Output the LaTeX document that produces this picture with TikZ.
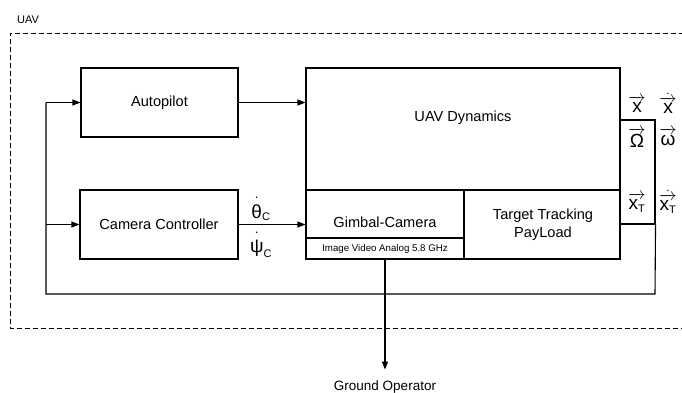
\documentclass[tikz,border=0pt]{standalone}
\usepackage{amsmath}
\usepackage{fontspec}
\setmainfont{Liberation Sans}
\usetikzlibrary{arrows.meta}
\newcommand{\mainsz}{\fontsize{14.6}{16}\selectfont}
\newcommand{\biglab}{\fontsize{19}{20}\selectfont}
\newcommand{\sublab}{\fontsize{11}{11}\selectfont}
\newcommand{\hd}[1]{\overset{\raisebox{3pt}{\text{\fontsize{13}{13}\selectfont .}}}{#1}}
\begin{document}
\begin{tikzpicture}[x=1pt,y=-1pt,
  blk/.style={draw,line width=1.1pt,inner sep=0pt},
  txt/.style={inner sep=0pt,font=\mainsz},
  lab/.style={inner sep=0pt,font=\biglab},
  conn/.style={line width=1.1pt},
  arr/.style={conn,-{Triangle[length=8pt,width=6pt]}}]
\useasboundingbox (0,0) rectangle (682,392);
% dashed UAV frame
\draw[line width=1pt,dash pattern=on 5pt off 3pt] (700,33) -- (10,33) -- (10,328) -- (700,328);
\node[inner sep=0pt,font=\fontsize{11}{12}\selectfont] (uav) at (28,20) {UAV};
% blocks
\node[blk,minimum width=157pt,minimum height=69pt] (auto) at (159.5,102.5) {};
\node[txt] (autot) at (auto.center) {Autopilot};
\node[blk,minimum width=158pt,minimum height=69pt] (cam) at (159,224.5) {};
\node[txt] (camt) at (cam.center) {Camera Controller};
\node[blk,minimum width=314pt,minimum height=191pt] (dyn) at (463,163.5) {};
\node[txt] (dynt) at (463,118) {UAV Dynamics};
\node[blk,minimum width=158pt,minimum height=69pt] (gim) at (385,224.5) {};
\node[txt] (gimt) at (385,222) {Gimbal-Camera};
\draw[conn] (306,238) -- (464,238);
\node[inner sep=0pt,font=\fontsize{9.7}{10}\selectfont] (img) at (385,248.5) {Image Video Analog 5.8 GHz};
\node[blk,minimum width=156pt,minimum height=69pt] (tgt) at (542,224.5) {};
\node[txt,align=center] (tgtt) at (543,224.5) {Target Tracking\\[1.5pt]PayLoad};
\node[blk,minimum width=35pt,minimum height=104pt] (out) at (637.5,172) {};
% output labels
\node[lab] (lx) at (637,104) {$\overrightarrow{\text{x}}$};
\node[lab] (ldx) at (668,103) {$\dot{\overrightarrow{\text{x}}}$};
\node[lab] (lom) at (637,138) {$\overrightarrow{\text{Ω}}$};
\node[lab] (lw) at (668,137) {$\overrightarrow{\text{ω}}$};
\node[lab] (lxt) at (637,203) {$\overrightarrow{\text{x}_{\text{\sublab T}}}$};
\node[lab] (ldxt) at (668,202) {$\dot{\overrightarrow{\text{x}_{\text{\sublab T}}}}$};
% camera command labels
\node[lab] (lth) at (261,208) {$\hd{\text{θ}}_{\text{\sublab C}}$};
\node[lab] (lps) at (261,244) {$\hd{\text{ψ}}_{\text{\sublab C}}$};
% ground
\node[inner sep=0pt,font=\fontsize{13.5}{14}\selectfont] (gnd) at (385,387) {Ground Operator};
\coordinate (fb1) at (655,294);
\coordinate (fb2) at (46,294);
\coordinate (fb3) at (46,102.5);
\coordinate (fb4) at (46,224.5);
% connectors
\draw[arr] (auto.east) -- (auto.east -| dyn.west);
\draw[arr] (cam.east) -- (gim.west);
\draw[conn] (out.south east) -- (fb1) -- (fb2) -- (fb3);
\draw[arr] (fb3) -- (auto.west);
\draw[arr] (fb4) -- (cam.west);
\draw[arr] (gim.south) -- ([yshift=11pt]gnd.north);
\end{tikzpicture}
\end{document}
